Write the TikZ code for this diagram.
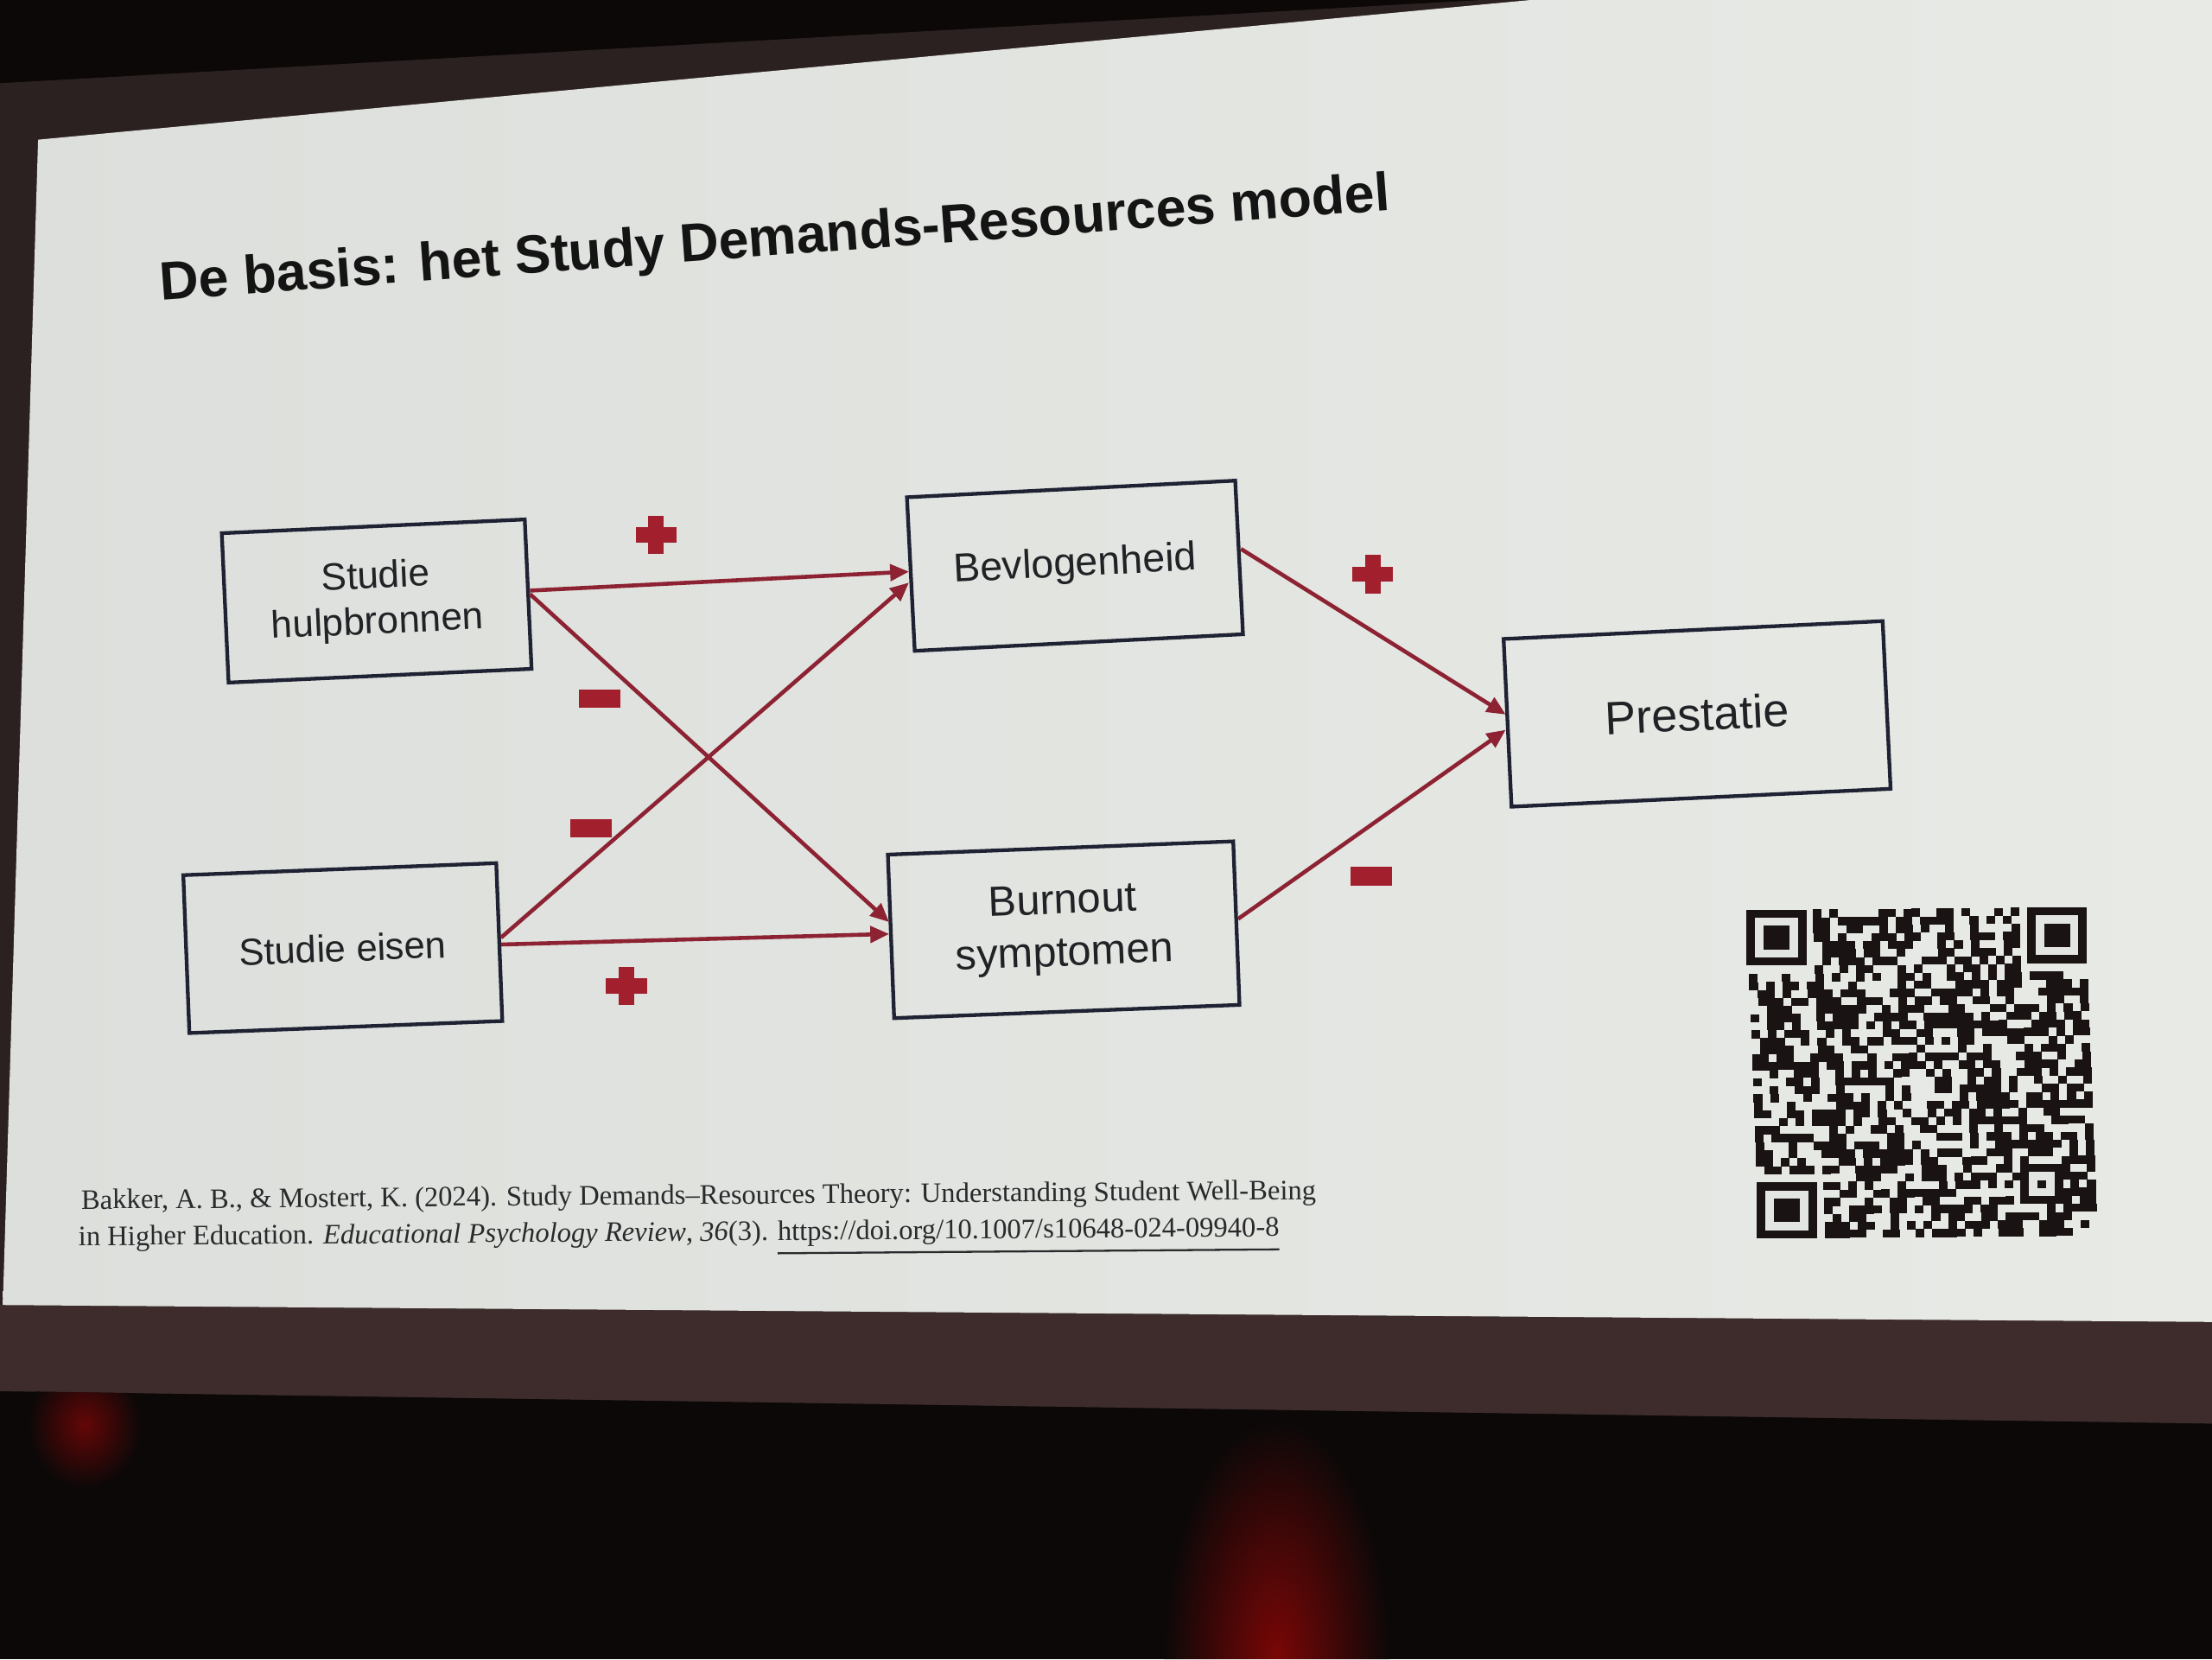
\documentclass[tikz,border=0pt]{standalone}
\usepackage{fontspec}
\setmainfont{Liberation Sans}
\newfontfamily\citefont{Liberation Serif}
\usetikzlibrary{arrows.meta,calc}
\definecolor{darkbg}{HTML}{0C0808}
\definecolor{bandcol}{HTML}{2C2121}
\definecolor{lowband}{HTML}{3D2C2B}
\definecolor{slideL}{HTML}{DCDFDB}
\definecolor{slideR}{HTML}{E8EAE6}
\definecolor{slidebg}{HTML}{E2E5E1}
\definecolor{boxcol}{HTML}{1E2233}
\definecolor{txtcol}{HTML}{222226}
\definecolor{arrowcol}{HTML}{8C2232}
\definecolor{signcol}{HTML}{A2202E}
\definecolor{qrcol}{HTML}{1A1313}
\definecolor{citecol}{HTML}{2A2A2C}
\definecolor{glow}{HTML}{7A0606}
\tikzset{
  pics/plussign/.style={code={
    \fill[signcol] (-14.5,-5.5) rectangle (14.5,5.5);
    \fill[signcol] (-5.5,-13.5) rectangle (5.5,13.5);}},
  pics/minussign/.style={code={
    \fill[signcol] (-14.5,-6.5) rectangle (14.5,6.5);}}
}
\begin{document}
\begin{tikzpicture}[x=0.1mm,y=-0.1mm,
  box/.style={draw=boxcol, line width=0.75pt, inner sep=0pt, align=center, text=txtcol},
  link/.style={draw=arrowcol, line width=0.8pt, -{Triangle[length=3.8pt,width=3.3pt]}},
  citetext/.style={font=\citefont\fontsize{5.68}{7}\selectfont, text=citecol, inner sep=0pt, anchor=base west, rotate=0.45}
]
\useasboundingbox (0,0) rectangle (1568,1176);
% photo surroundings
\fill[darkbg] (0,0) rectangle (1568,1176);
\fill[bandcol] (0,59) -- (1050,0) -- (1568,0) -- (1568,1009) -- (0,986) -- cycle;
\fill[lowband] (0,925) -- (1568,937) -- (1568,1009) -- (0,986) -- cycle;
\begin{scope}
  \clip (0,986) -- (1568,1009) -- (1568,1176) -- (0,1176) -- cycle;
  \shade[inner color=glow, outer color=darkbg] (905,1176) ellipse [x radius=80, y radius=170];
  \shade[inner color=glow!80!darkbg, outer color=darkbg] (60,1010) ellipse [x radius=40, y radius=45];
\end{scope}
% slide
\shade[left color=slideL, right color=slideR] (27,99) -- (1085,0) -- (1568,0) -- (1568,937) -- (2,925) -- cycle;

% title
\node[anchor=base, font=\bfseries\fontsize{10.9}{13}\selectfont, rotate=4.2, text=black!92] (title) at (550,181) {De basis: het Study Demands-Resources model};

% boxes
\node[box, rotate=2.6, minimum width=21.5mm, minimum height=10.6mm, font=\fontsize{7.7}{9.2}\selectfont] (sh) at (267,426) {Studie\\hulpbronnen};
\node[box, rotate=2.9, minimum width=23.3mm, minimum height=10.9mm, font=\fontsize{8.1}{9.7}\selectfont] (bev) at (762,401) {Bevlogenheid};
\node[box, rotate=2.2, minimum width=22.2mm, minimum height=11.2mm, font=\fontsize{7.6}{9}\selectfont] (se) at (243,672) {Studie eisen};
\node[box, rotate=2.2, minimum width=24.5mm, minimum height=11.6mm, font=\fontsize{8.5}{10.5}\selectfont] (bo) at (754,659) {Burnout\\symptomen};
\node[box, rotate=2.7, minimum width=26.9mm, minimum height=11.9mm, font=\fontsize{9.4}{11}\selectfont] (pr) at (1203,506) {Prestatie};

% connectors
\draw[link] ([yshift=0.7pt]sh.east) -- ([yshift=0.5pt]bev.west);
\draw[link] (sh.east) -- ([yshift=2.9pt]bo.west);
\draw[link] ([yshift=0.9pt]se.east) -- ([yshift=-1.7pt]bev.west);
\draw[link] ([yshift=-0.5pt]se.east) -- ([yshift=0.5pt]bo.west);
\draw[link] ([yshift=1.7pt]bev.east) -- ([yshift=1.7pt]pr.west);
\draw[link] ([yshift=0.85pt]bo.east) -- ([yshift=-1.4pt]pr.west);

% signs
\pic at (465,379) {plussign};
\pic at (425,495) {minussign};
\pic at (419,587) {minussign};
\pic at (444,699) {plussign};
\pic at (973,407) {plussign};
\pic at (972,621) {minussign};

% citation
\node[citetext] (cite1) at (57,857) {Bakker, A. B., \& Mostert, K. (2024). Study Demands–Resources Theory: Understanding Student Well-Being};
\node[citetext] (cite2) at (55,883) {in Higher Education. \textit{Educational Psychology Review}, \textit{36}(3). \underline{https://doi.org/10.1007/s10648-024-09940-8}};

% QR code
\begin{scope}[shift={(1238,645)}, x={(0.585mm,0.005mm)}, y={(0.022mm,-0.568mm)}]
  \pgfmathsetseed{2024}
  \foreach \i in {0,...,40}{
    \foreach \j in {0,...,40}{
      \pgfmathtruncatemacro\skipit{or(or(and(\i<8,\j<8),and(\i>32,\j<8)),or(and(\i<8,\j>32),and(and(\i>31,\i<37),and(\j>31,\j<37))))}
      \pgfmathsetmacro\r{rnd}
      \ifnum\skipit=0
        \ifdim\r pt<0.54pt
          \fill[qrcol] (\i,\j) rectangle ++(1.02,1.02);
        \fi
      \fi
    }
  }
  \foreach \a/\b in {0/0,34/0,0/34}{
    \fill[qrcol] (\a,\b) rectangle ++(7,7);
    \fill[slidebg] (\a+1,\b+1) rectangle ++(5,5);
    \fill[qrcol] (\a+2,\b+2) rectangle ++(3,3);
  }
  \fill[qrcol] (32,32) rectangle ++(5,5);
  \fill[slidebg] (33,33) rectangle ++(3,3);
  \fill[qrcol] (34,34) rectangle ++(1,1);
\end{scope}
\end{tikzpicture}
\end{document}
